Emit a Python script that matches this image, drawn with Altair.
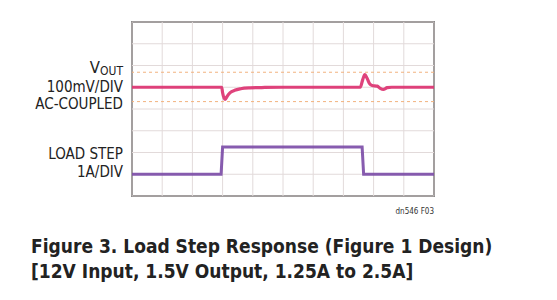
import altair as alt
import pandas as pd

# ---- data ----
# time in divisions (10 div across), VOUT deviation in mV (100 mV/div, AC-coupled)
time_v = [0, 2.97, 3.0, 3.05, 3.09, 3.15, 3.25, 3.4, 3.6, 3.9, 4.4, 5.0,
          7.56, 7.64, 7.71, 7.78, 7.86, 7.95, 8.12, 8.22, 8.32, 8.45, 8.6, 10]
vout_mv = [0, 0, -25, -50, -56, -42, -25, -14, -7, -3, -1, 0,
           0, 35, 58, 42, 18, 8, 5, -5, -10, -2, 0, 0]
# load step current (1 A/div)
time_i = [0, 2.95, 3.0, 7.62, 7.67, 10]
load_a = [1.25, 1.25, 2.5, 2.5, 1.25, 1.25]

# screen layout of the traces (divisions from bottom)
vout_zero_div = 5.0
load_offset_div = -0.25
cursor_divs = [5.69, 4.34]
grid_x = list(range(0, 11))
grid_y = list(range(0, 9))

left_labels = ["100mV/DIV", "AC-COUPLED", "LOAD STEP", "1A/DIV"]
caption = ["Figure 3. Load Step Response (Figure 1 Design)",
           "[12V Input, 1.5V Output, 1.25A to 2.5A]"]

PINK = "#dc2f6e"
PURPLE = "#7a4aa6"
GRID = "#e2dada"
FONT = "DejaVu Sans Condensed, Liberation Sans Narrow, Roboto, sans-serif"

vdf = pd.DataFrame({"t": time_v, "mv": vout_mv})
vdf["y"] = vout_zero_div + vdf["mv"] / 100.0
idf = pd.DataFrame({"t": time_i, "a": load_a})
idf["y"] = idf["a"] + load_offset_div

xs = alt.Scale(domain=[0, 10], nice=False, zero=False)
ys = alt.Scale(domain=[0, 8], nice=False, zero=False)

vgrid = alt.Chart(pd.DataFrame({"g": grid_x})).mark_rule(color=GRID, strokeWidth=1).encode(
    x=alt.X("g:Q", scale=xs, axis=None))
hgrid = alt.Chart(pd.DataFrame({"g": grid_y})).mark_rule(color=GRID, strokeWidth=1).encode(
    y=alt.Y("g:Q", scale=ys, axis=None))
cursors = alt.Chart(pd.DataFrame({"c": cursor_divs})).mark_rule(
    color="#f2b27e", strokeWidth=1, strokeDash=[3, 3]).encode(
    y=alt.Y("c:Q", scale=ys, axis=None))

vline = alt.Chart(vdf).mark_line(color=PINK, strokeWidth=3.2, opacity=0.9,
                                 interpolate="monotone").encode(
    x=alt.X("t:Q", scale=xs, axis=None), y=alt.Y("y:Q", scale=ys, axis=None), order="t:Q")
iline = alt.Chart(idf).mark_line(color=PURPLE, strokeWidth=3, opacity=0.9).encode(
    x=alt.X("t:Q", scale=xs, axis=None), y=alt.Y("y:Q", scale=ys, axis=None), order="t:Q")

lab_df = pd.DataFrame({"txt": left_labels, "yy": [69.5, 86.5, 137, 155]})
labels = alt.Chart(lab_df).mark_text(align="right", baseline="alphabetic", font=FONT,
                                     fontSize=15, color="#222").encode(
    x=alt.value(-9), y=alt.Y("yy:Q", scale=None), text="txt:N")
v_lab = alt.Chart(pd.DataFrame({"t": ["V"]})).mark_text(
    align="right", baseline="alphabetic", font=FONT, fontSize=16.5, color="#222").encode(
    x=alt.value(-32), y=alt.value(51), text="t:N")
out_lab = alt.Chart(pd.DataFrame({"t": ["OUT"]})).mark_text(
    align="right", baseline="alphabetic", font=FONT, fontSize=12, color="#222").encode(
    x=alt.value(-9), y=alt.value(53), text="t:N")
dn_lab = alt.Chart(pd.DataFrame({"t": ["dn546 F03"]})).mark_text(
    align="right", baseline="alphabetic", font=FONT, fontSize=8, color="#333").encode(
    x=alt.value(302), y=alt.value(192), text="t:N")
cap_df = pd.DataFrame({"txt": caption, "yy": [231.3, 256]})
cap = alt.Chart(cap_df).mark_text(align="left", baseline="alphabetic", font=FONT,
                                  fontSize=19, fontWeight="bold", color="#222").encode(
    x=alt.value(-101), y=alt.Y("yy:Q", scale=None), text="txt:N")

chart = alt.layer(vgrid, hgrid, cursors, vline, iline, labels, v_lab, out_lab, dn_lab, cap).properties(
    width=302, height=174,
    autosize=alt.AutoSizeParams(type="none"),
    padding={"left": 132, "top": 22, "right": 123, "bottom": 104},
    background="white",
).configure_view(stroke="#333", strokeWidth=1.5)

chart.save("out.html", embed_options={"renderer": "svg", "actions": False})
